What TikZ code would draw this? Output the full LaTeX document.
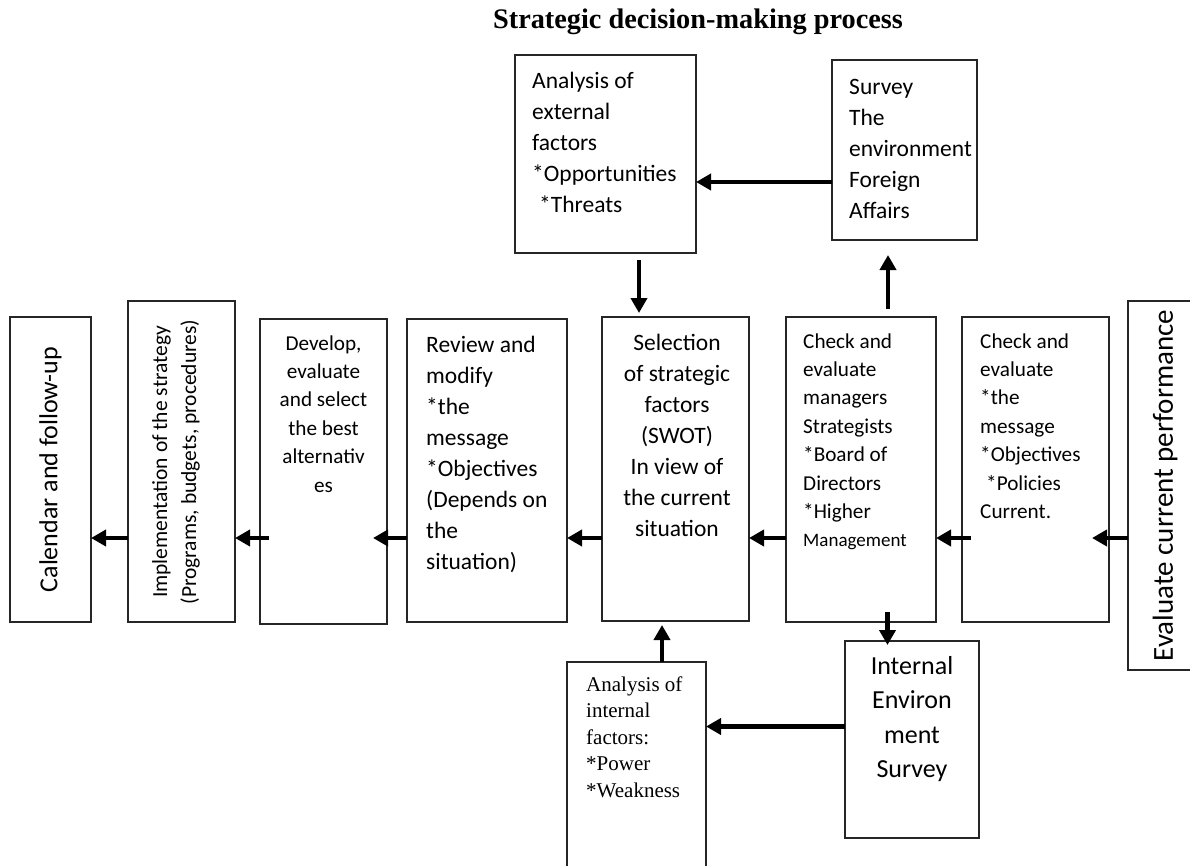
\documentclass[tikz,border=0pt]{standalone}
\usepackage{fontspec}
\setmainfont{Carlito}
\newfontfamily\tnr{Liberation Serif}
\usetikzlibrary{arrows.meta}
\begin{document}
\begin{tikzpicture}[x=1pt,y=-1pt,
  box/.style={draw=black!85, line width=1.3pt, inner sep=0pt, outer sep=0pt, anchor=north west},
  txtA/.style={font=\fontsize{23.5}{31}\selectfont, inner sep=0pt, text width=#1},
  txtB/.style={font=\fontsize{21.2}{28.4}\selectfont, inner sep=0pt, text width=#1},
  arr/.style={line width=4.5pt, -{Triangle[length=15pt,width=16pt]}},
]
\fill[white] (0,0) rectangle (1190,865);
\useasboundingbox (0,0) rectangle (1190,865);

% title
\node[font=\tnr\bfseries\fontsize{28.3}{30}\selectfont, anchor=base, inner sep=0pt] (title) at (698,28) {Strategic decision-making process};

% boxes
\node[box, minimum width=181pt, minimum height=198pt] (ext) at (515,55) {};
\node[box, minimum width=145pt, minimum height=180pt] (survey) at (832,60) {};
\node[box, minimum width=81pt, minimum height=305pt] (cal) at (10,317) {};
\node[box, minimum width=107pt, minimum height=321pt] (impl) at (128,301) {};
\node[box, minimum width=127pt, minimum height=305pt] (dev) at (260,319) {};
\node[box, minimum width=160pt, minimum height=303pt] (rev) at (407,319) {};
\node[box, minimum width=147pt, minimum height=304pt] (sel) at (602,317) {};
\node[box, minimum width=150pt, minimum height=305pt] (chk1) at (786,317) {};
\node[box, minimum width=147pt, minimum height=305pt] (chk2) at (962,317) {};
\node[box, minimum width=80pt, minimum height=369pt] (eval) at (1128,301) {};
\node[box, minimum width=134pt, minimum height=197pt] (inten) at (845,641) {};
\node[box, minimum width=139pt, minimum height=230pt] (inan) at (567,662) {};

% texts
\node[txtA=200pt, anchor=base west, align=flush left] (extT) at (532,88)
  {Analysis of\\external\\factors\\{}*Opportunities\\\hspace*{7pt}*Threats};
\node[txtA=200pt, anchor=base west, align=flush left] (survT) at (849,94)
  {Survey\\The\\environment\\Foreign\\Affairs};
\node[font=\fontsize{26}{30}\selectfont, rotate=90, inner sep=0pt] (calT) at (50.5,469.5)
  {Calendar and follow-up};
\node[font=\fontsize{21.5}{29}\selectfont, rotate=90, inner sep=0pt, align=flush center] (implT) at (176,462)
  {Implementation of the strategy\\(Programs, budgets, procedures)};
\node[txtB=160pt, anchor=base, align=flush center] (devT) at (323.5,350)
  {Develop,\\evaluate\\and select\\the best\\alternativ\\es};
\node[txtA=200pt, anchor=base west, align=flush left] (revT) at (426,352)
  {Review and\\modify\\{}*the\\message\\{}*Objectives\\(Depends on\\the\\situation)};
\node[txtA=180pt, anchor=base, align=flush center] (selT) at (677,350)
  {Selection\\of strategic\\factors\\(SWOT)\\In view of\\the current\\situation};
\node[txtB=200pt, anchor=base west, align=flush left] (chk1T) at (803,348)
  {Check and\\evaluate\\managers\\Strategists\\{}*Board of\\Directors\\{}*Higher\\{\fontsize{19}{25}\selectfont Management}};
\node[txtB=200pt, anchor=base west, align=flush left] (chk2T) at (980,348)
  {Check and\\evaluate\\{}*the\\message\\{}*Objectives\\\hspace*{6pt}*Policies\\Current.};
\node[font=\fontsize{29}{34}\selectfont, rotate=90, inner sep=0pt] (evalT) at (1165,485.5)
  {Evaluate current performance};
\node[font=\fontsize{26}{34.5}\selectfont, inner sep=0pt, text width=160pt, anchor=base, align=flush center] (intenT) at (912,674)
  {Internal\\Environ\\ment\\Survey};
\node[font=\tnr\fontsize{21}{26.5}\selectfont, inner sep=0pt, text width=200pt, anchor=base west, align=flush left] (inanT) at (586,691)
  {Analysis of\\internal\\factors:\\{}*Power\\{}*Weakness};

% connectors
\coordinate (row) at (0,538);
\draw[arr, shorten <=-9pt] (chk2.west |- row) -- (chk1.east |- row);
\draw[arr, shorten >=-17pt] (eval.west |- row) -- (chk2.east |- row);
\draw[arr] (chk1.west |- row) -- (sel.east |- row);
\draw[arr] (sel.west |- row) -- (rev.east |- row);
\draw[arr, shorten >=-14pt] (rev.west |- row) -- (dev.east |- row);
\draw[arr, shorten <=-9pt] (dev.west |- row) -- (impl.east |- row);
\draw[arr] (impl.west |- row) -- (cal.east |- row);

\coordinate (a1) at ([xshift=33.5pt]ext.south);
\draw[arr, shorten <=7pt, shorten >=4pt] (a1) -- (a1 |- sel.north);
\coordinate (a2) at ([xshift=27pt]chk1.north);
\draw[arr, shorten <=8pt, shorten >=15pt] (a2) -- (a2 |- survey.south);
\coordinate (a3) at ([xshift=26.5pt]chk1.south);
\draw[arr, shorten <=-10pt, shorten >=-4pt] (a3) -- (a3 |- inten.north);
\coordinate (a4) at ([xshift=25.5pt]inan.north);
\draw[arr, shorten >=4pt] (a4) -- (a4 |- sel.south);
\coordinate (a5) at ([yshift=13pt]inten.west);
\draw[arr] (a5) -- (a5 -| inan.east);
\coordinate (a6) at ([yshift=-32pt]survey.west);
\draw[arr] (a6) -- (a6 -| ext.east);
\end{tikzpicture}
\end{document}
